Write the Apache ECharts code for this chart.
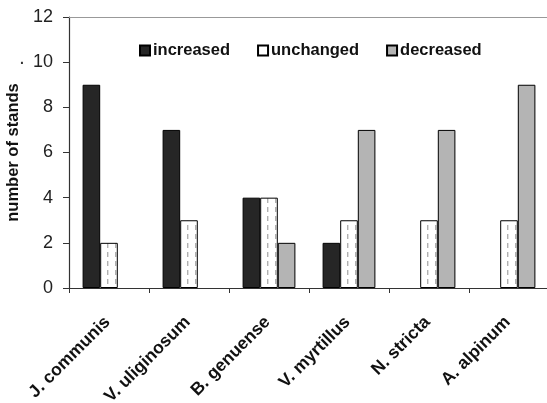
<!DOCTYPE html>
<html><head><meta charset="utf-8">
<script src="https://cdn.jsdelivr.net/npm/echarts@6/dist/echarts.min.js"></script>
<style>html,body{margin:0;padding:0;background:#fff}#c{width:547px;height:403px}</style>
</head><body><div id="c"></div>
<script>
const categories = ['J. communis','V. uliginosum','B. genuense','V. myrtillus','N. stricta','A. alpinum'];
const increased = [9,7,4,2,0,0];
const unchanged = [2,3,4,3,3,3];
const decreased = [0,0,2,7,7,9];
const yTicks = [0,2,4,6,8,10,12];

const pc = document.createElement('canvas');
pc.width = 8; pc.height = 9;
const g = pc.getContext('2d');
g.fillStyle = '#ffffff'; g.fillRect(0,0,8,9);
g.fillStyle = '#b0b0b0'; g.fillRect(3,0,1.4,5);

const nz = a => a.map(v => v === 0 ? null : v);

const chart = echarts.init(document.getElementById('c'), null, {renderer:'canvas'});
const font = 'Liberation Sans, Arial, sans-serif';
chart.setOption({
  animation:false,
  textStyle:{fontFamily:font},
  legend:{
    top:37, left:134, itemWidth:10, itemHeight:10, itemGap:27, icon:'rect',
    textStyle:{fontFamily:font,fontWeight:'bold',fontSize:16.5,color:'#111',padding:[0,0,0,-2]},
    data:[{name:'increased'},{name:'unchanged',itemStyle:{color:'#fff'}},{name:'decreased'}]
  },
  grid:{left:69, top:17, width:480, bottom:115, containLabel:false, outerBoundsMode:'none'},
  xAxis:[{
    type:'category', data:categories,
    axisLine:{lineStyle:{color:'#333',width:1.2}},
    axisTick:{show:true, interval:0, length:5, lineStyle:{color:'#333'}},
    axisLabel:{interval:0, rotate:45, margin:30, fontFamily:font, fontWeight:'bold', fontSize:17.5, color:'#111', padding:[0,2,0,0]}
  },{
    type:'category', position:'top', data:categories,
    axisLine:{show:true,lineStyle:{color:'#999',width:1}},
    axisTick:{show:false}, axisLabel:{show:false}
  }],
  yAxis:{
    type:'value', min:yTicks[0], max:yTicks[yTicks.length-1], interval:2,
    name:'number of stands', nameLocation:'middle', nameGap:46,
    nameTextStyle:{fontFamily:font,fontWeight:'bold',fontSize:16.5,color:'#111'},
    axisLine:{show:true,lineStyle:{color:'#333',width:1.2}},
    axisTick:{show:true,length:6,lineStyle:{color:'#333'}},
    splitLine:{show:false},
    axisLabel:{fontFamily:font,fontSize:18,color:'#222',margin:16}
  },
  graphic:[{type:'text', left:20, top:53, style:{text:'.', font:'bold 14px Liberation Sans', fill:'#333'}}],
  series:[
    {name:'increased', type:'bar', data:nz(increased), barGap:'0%', barCategoryGap:'34%',
      itemStyle:{color:'#262626', borderColor:'#000', borderWidth:1}},
    {name:'unchanged', type:'bar', data:nz(unchanged),
      itemStyle:{color:{image:pc, repeat:'repeat'}, borderColor:'#000', borderWidth:1}},
    {name:'decreased', type:'bar', data:nz(decreased),
      itemStyle:{color:'#b4b4b4', borderColor:'#000', borderWidth:1}}
  ]
});
</script></body></html>
